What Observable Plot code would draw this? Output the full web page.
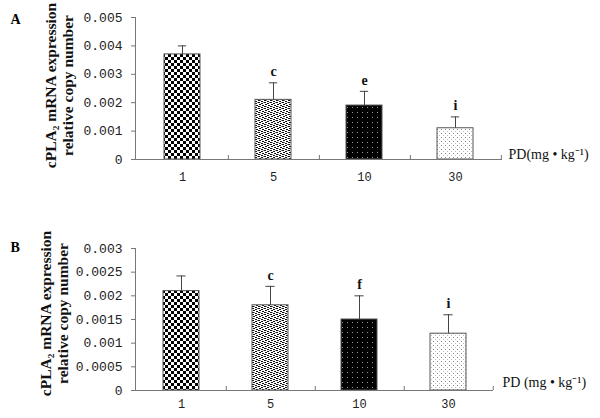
<!DOCTYPE html>
<html><head><meta charset="utf-8">
<script src="https://cdn.jsdelivr.net/npm/d3@7"></script>
<script src="https://cdn.jsdelivr.net/npm/@observablehq/plot@0.6"></script>
<style>
body{margin:0;background:#fff;width:600px;height:418px;overflow:hidden}
svg.plot{display:block}
</style>
</head><body>
<svg width="0" height="0" style="position:absolute">
<defs>
<pattern id="pChk" patternUnits="userSpaceOnUse" width="6" height="6">
<rect width="6" height="6" fill="#fff"/><rect width="3" height="3" fill="#000"/><rect x="3" y="3" width="3" height="3" fill="#000"/>
</pattern>
<pattern id="pSpeck" patternUnits="userSpaceOnUse" width="6" height="6">
<rect width="6" height="6" fill="#fff"/>
<rect x="0" y="0" width="2" height="1" fill="#111"/><rect x="3" y="1" width="2" height="1" fill="#111"/>
<rect x="1" y="2" width="2" height="1" fill="#111"/><rect x="4" y="3" width="2" height="1" fill="#111"/>
<rect x="0" y="4" width="2" height="1" fill="#111"/><rect x="3" y="5" width="2" height="1" fill="#111"/>
<rect x="5" y="0" width="1" height="1" fill="#888"/><rect x="2" y="4" width="1" height="1" fill="#888"/>
</pattern>
<pattern id="pDark" patternUnits="userSpaceOnUse" width="5" height="5">
<rect width="5" height="5" fill="#000"/><rect x="2" y="2" width="1" height="1" fill="#9a9a9a"/>
</pattern>
<pattern id="pLight" patternUnits="userSpaceOnUse" width="4" height="4">
<rect width="4" height="4" fill="#fff"/><rect x="1" y="1" width="1" height="1" fill="#888"/><rect x="3" y="3" width="1" height="1" fill="#bbb"/>
</pattern>
</defs></svg>
<div id="chart"></div>
<script>
const doses = ["1", "5", "10", "30"];
const meanA = [0.0037, 0.0021, 0.0019, 0.0011];
const errA = [0.0003, 0.0006, 0.0005, 0.0004];
const sigA = ["", "c", "e", "i"];
const meanB = [0.0021, 0.0018, 0.0015, 0.0012];
const errB = [0.00032, 0.0004, 0.0005, 0.0004];
const sigB = ["", "c", "f", "i"];
const ticksA = [0, 0.001, 0.002, 0.003, 0.004, 0.005];
const tickLabelsA = ["0", "0.001", "0.002", "0.003", "0.004", "0.005"];
const ticksB = [0, 0.0005, 0.001, 0.0015, 0.002, 0.0025, 0.003];
const tickLabelsB = ["0", "0.0005", "0.001", "0.0015", "0.002", "0.0025", "0.003"];
const patterns = ["url(#pChk)", "url(#pSpeck)", "url(#pDark)", "url(#pLight)"];
const yTitle1 = "cPLA\u2082 mRNA expression";
const yTitle2 = "relative copy number";

const serif = "'Liberation Serif', 'Times New Roman', serif";
const mono = "'Liberation Mono', 'DejaVu Sans Mono', monospace";

function panel(o) {
  const data = doses.map((d, i) => ({dose: d, mean: o.mean[i], err: o.err[i], sig: o.sig[i]}));
  const W = 600, ml = 135;
  const step = (W - ml - o.mr) / doses.length;
  const bw = step * 0.4;
  const cap = (bw - 9) / 2;
  return Plot.plot({
    width: W, height: o.height,
    marginLeft: ml, marginRight: o.mr, marginTop: o.mt, marginBottom: o.mb,
    x: {domain: doses, paddingInner: 0.6, paddingOuter: 0.3},
    y: {domain: [0, o.ticks[o.ticks.length - 1]]},
    color: {type: "ordinal", domain: doses, range: patterns},
    style: {background: "#fff", overflow: "visible"},
    marks: [
      Plot.barY(data, {x: "dose", y: "mean", fill: "dose", stroke: "#555", strokeWidth: 1}),
      Plot.ruleX(data, {x: "dose", y1: "mean", y2: d => d.mean + d.err, stroke: "#444"}),
      Plot.tickY(data, {x: "dose", y: d => d.mean + d.err, stroke: "#444", insetLeft: cap, insetRight: cap}),
      Plot.text(data, {x: "dose", y: d => d.mean + d.err, text: "sig", dy: -11, fontFamily: serif, fontWeight: "bold", fontSize: 14, fill: "#111"}),
      Plot.frame({anchor: "left", stroke: "#777"}),
      Plot.ruleY([0], {stroke: "#777"}),
      Plot.ruleX(doses, {x: d => d, y1: 0, y2: 0, insetBottom: 4, dx: step / 2, stroke: "#777"}),
      Plot.axisY({ticks: o.ticks, tickFormat: d => o.labels[o.ticks.indexOf(d)], tickSize: 4, tickPadding: 9, fontFamily: mono, fontSize: 13, label: null, stroke: "#777", color: "#222"}),
      Plot.axisX({tickSize: 0, tickPadding: o.xpad, fontFamily: mono, fontSize: 12, label: null, color: "#222"}),
      Plot.text([o.pd], {frameAnchor: "bottom-right", dx: o.pdDx, dy: o.pdDy, textAnchor: "start", fontFamily: serif, fontSize: 14, fill: "#111"}),
      Plot.text([o.letter], {frameAnchor: "top-left", dx: -125, dy: o.letterDy, textAnchor: "start", fontFamily: serif, fontWeight: "bold", fontSize: 14, fill: "#000"}),
      Plot.text([yTitle1], {frameAnchor: "left", textAnchor: "middle", rotate: -90, dx: o.t1, dy: o.tdy, fontFamily: serif, fontWeight: "bold", fontSize: 15.5, fill: "#111"}),
      Plot.text([yTitle2], {frameAnchor: "left", textAnchor: "middle", rotate: -90, dx: o.t2, dy: o.tdy, fontFamily: serif, fontWeight: "bold", fontSize: 15.5, fill: "#111"})
    ]
  });
}

const chart = document.getElementById("chart");
chart.append(panel({mean: meanA, err: errA, sig: sigA, ticks: ticksA, labels: tickLabelsA,
  height: 200, mt: 17, mb: 41, mr: 98, xpad: 13, pd: "PD(mg \u2022 kg\u207B\u00B9)", pdDx: 6, pdDy: -1,
  letter: "A", letterDy: -3, t1: -84, t2: -67, tdy: -3}));
chart.append(panel({mean: meanB, err: errB, sig: sigB, ticks: ticksB, labels: tickLabelsB,
  height: 218, mt: 48, mb: 28, mr: 107, xpad: 9, pd: "PD (mg \u2022 kg\u207B\u00B9)", pdDx: 9, pdDy: -4,
  letter: "B", letterDy: -6, t1: -89, t2: -72, tdy: -6}));
</script>
</body></html>
